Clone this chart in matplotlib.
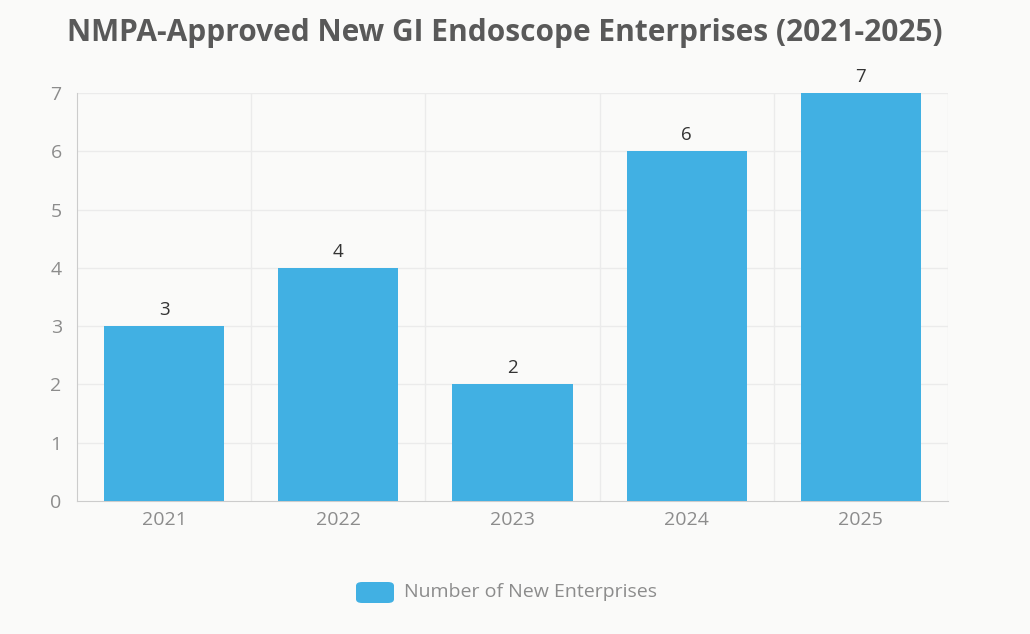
import matplotlib.pyplot as plt
from matplotlib.patches import FancyBboxPatch

plt.rcParams['font.family'] = ['Open Sans', 'DejaVu Sans']

anos = ['2021', '2022', '2023', '2024', '2025']
empresas = [3, 4, 2, 6, 7]
cor_barra = '#41B0E3'
fundo = '#FAFAF9'

fig = plt.figure(figsize=(10.3, 6.34), dpi=100, facecolor=fundo)
ax = fig.add_axes([77 / 1030, 1 - 501 / 634, 871 / 1030, 408 / 634], facecolor=fundo)

x = list(range(len(anos)))
barras = ax.bar(x, empresas, width=0.69, color=cor_barra, zorder=3,
                label='Number of New Enterprises')

# rotulos em cima das barras
for xi, v in zip(x, empresas):
    ax.text(xi, v + 0.12, str(v), ha='center', va='bottom', fontsize=13.5, color='#333333', zorder=4)

ax.set_xlim(-0.5, len(anos) - 0.5)
ax.set_ylim(0, 7)
ax.set_yticks(range(0, 8))
ax.set_xticks(x)
ax.set_xticklabels(anos)

# grade: horizontal nos valores, vertical entre categorias
for y in range(1, 8):
    ax.axhline(y, color='#EBEBEB', lw=1, zorder=1)
for b in range(1, len(anos)):
    ax.axvline(b - 0.5, color='#EBEBEB', lw=1, zorder=1)
ax.axvline(len(anos) - 0.5, color='#EBEBEB', lw=1, zorder=1)

for s in ['top', 'right']:
    ax.spines[s].set_visible(False)
ax.spines['left'].set_color('#CCCCCC')
ax.spines['bottom'].set_color('#CCCCCC')
ax.tick_params(axis='both', length=0, labelsize=14, colors='#8C8C8C')
ax.tick_params(axis='y', pad=11)
ax.tick_params(axis='x', pad=7)

fig.text(505 / 1030, 1 - 33 / 634, 'NMPA-Approved New GI Endoscope Enterprises (2021-2025)',
         ha='center', va='center', fontsize=21.5, fontweight='bold', color='#595959')

# legenda
patch = FancyBboxPatch((356 / 1030, 1 - 603 / 634), 38 / 1030, 21 / 634,
                       boxstyle='round,pad=0,rounding_size=0.006', transform=fig.transFigure,
                       facecolor=cor_barra, edgecolor='none')
fig.patches.append(patch)
fig.text(404 / 1030, 1 - 592 / 634, 'Number of New Enterprises', ha='left', va='center',
         fontsize=14, color='#8C8C8C')

plt.savefig('out.png', dpi=100, facecolor=fundo)
